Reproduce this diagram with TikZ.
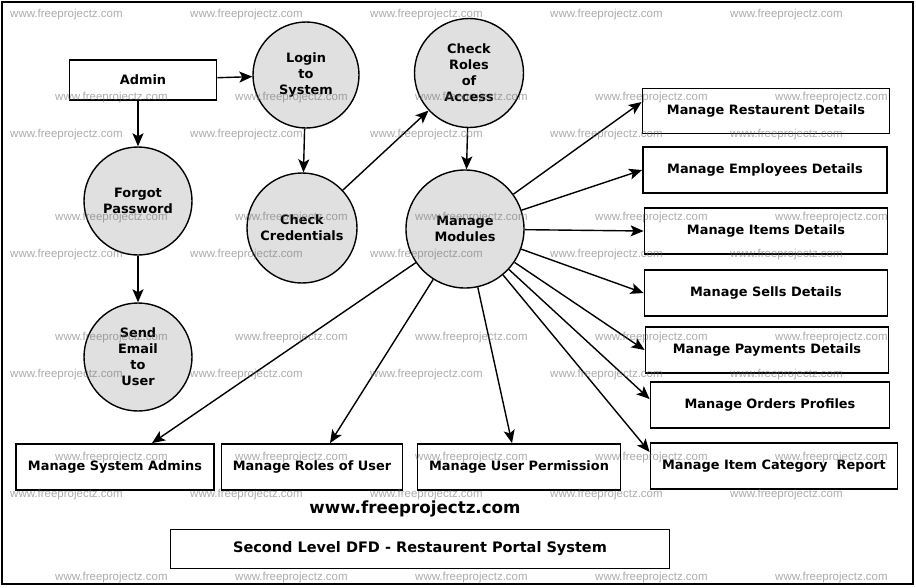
\documentclass[tikz,border=0pt]{standalone}
\usepackage{fontspec}
\setmainfont{DejaVu Sans}
\newfontfamily\wmfont{Liberation Sans}
\usetikzlibrary{arrows.meta}
\usetikzlibrary{calc}
\definecolor{procfill}{RGB}{224,224,224}

\begin{document}
\begin{tikzpicture}[
				x=1pt, y=-1pt,
				P/.style = {circle, draw, fill=procfill,% process bubbles
					line width=1.4pt, minimum size=108pt, inner sep=0pt,
					align=center, font=\fontsize{12.9}{16}\selectfont\bfseries},
				E/.style = {rectangle, draw, line width=1.8pt,% entities
					minimum height=46pt, inner sep=0pt,
					font=\fontsize{12.9}{16}\selectfont\bfseries},
				A/.style = {-{Stealth[length=13pt,width=11pt,inset=3pt]}, line width=1.4pt},
				W/.style = {anchor=west, inner sep=0pt, text=black!60, opacity=0.55,
					font=\wmfont\fontsize{11.5}{12}\selectfont},
				]
				\useasboundingbox (0,0) rectangle (916,587);
				\draw[line width=2pt] (2,2) rectangle (913,584);
				% processes
				\node (adm) [E, minimum width=147pt, minimum height=40pt] at (143,80) {Admin};
				\node (login) [P, minimum size=106pt] at (306,75) {Login\\to\\System};
				\node (roles) [P, minimum size=109pt] at (469,73) {Check\\Roles\\of\\Access};
				\node (forgot) [P] at (138,201) {Forgot\\Password};
				\node (cred) [P, minimum size=110pt] at (302,228) {Check\\Credentials};
				\node (mod) [P, minimum size=118pt] at (465,229) {Manage\\Modules};
				\node (mail) [P] at (138,357) {Send\\Email\\to\\User};
				% entities
				\node (rest) [E, minimum width=247pt, minimum height=45pt] at (766,111) {Manage Restaurent Details};
				\node (emp) [E, minimum width=244pt] at (765,170) {Manage Employees Details};
				\node (item) [E, minimum width=243pt] at (766,231) {Manage Items Details};
				\node (sell) [E, minimum width=243pt] at (766,293) {Manage Sells Details};
				\node (pay) [E, minimum width=243pt] at (767,350) {Manage Payments Details};
				\node (ord) [E, minimum width=239pt] at (770,405) {Manage Orders Profiles};
				\node (cat) [E, minimum width=247pt] at (774,466) {Manage Item Category\ \ Report};
				\node (sadm) [E, minimum width=198pt] at (115,467) {Manage System Admins};
				\node (urole) [E, minimum width=181pt] at (312,467) {Manage Roles of User};
				\node (uperm) [E, minimum width=203pt] at (519,467) {Manage User Permission};
				\node (web) [font=\fontsize{16.7}{20}\selectfont\bfseries] at (415,509) {www.freeprojectz.com};
				\node (title) [E, minimum width=499pt, minimum height=39pt,
					font=\fontsize{14.5}{18}\selectfont\bfseries] at (420,549) {Second Level DFD - Restaurent Portal System};
				% flows
				\draw[A] (adm) -- (login);
				\draw[A] (forgot.north |- adm.south) -- (forgot);
				\draw[A] (login) -- (cred);
				\draw[A] (cred) -- (roles);
				\draw[A] (roles) -- (mod);
				\draw[A] (forgot) -- (mail);
				\draw[A] (mod) -- ($(rest.west)+(0,-9)$);
				\draw[A] (mod) -- (emp.west);
				\draw[A] (mod) -- (item.west);
				\draw[A] (mod) -- (sell.west);
				\draw[A] (mod) -- (pay.west);
				\draw[A] (mod) -- ($(ord.west)+(0,-6)$);
				\draw[A] (mod) -- ($(cat.west)+(0,-14)$);
				\draw[A] (mod) -- ($(sadm.north)+(37,0)$);
				\draw[A] (mod) -- ($(urole.north)+(18,0)$);
				\draw[A] (mod) -- ($(uperm.north)+(-7,0)$);
				% watermark
				\foreach \y in {15,135,...,495}
				\foreach \x in {10,190,...,730}
				\node (wa-\x-\y) [W] at (\x,\y) {www.freeprojectz.com};
				\foreach \y in {98,218,...,578}
				\foreach \x in {55,235,...,775}
				\node (wb-\x-\y) [W] at (\x,\y) {www.freeprojectz.com};
			\end{tikzpicture}
\end{document}
